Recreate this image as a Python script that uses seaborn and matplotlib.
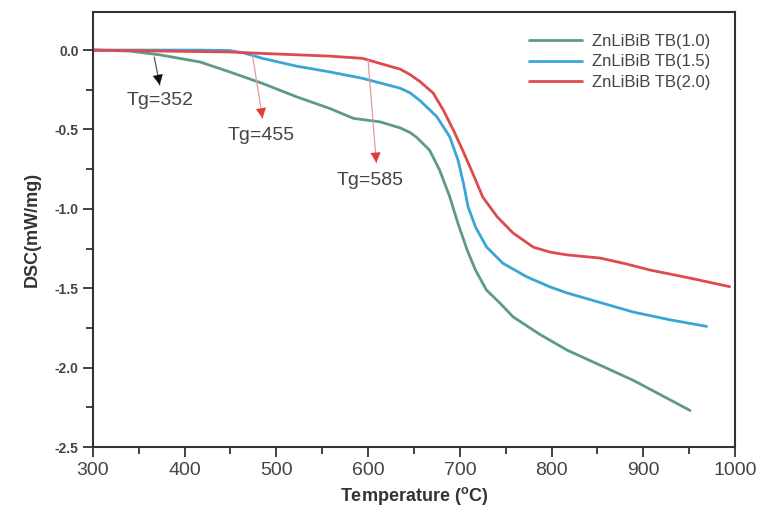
import matplotlib
matplotlib.use("Agg")
import matplotlib.pyplot as plt
from matplotlib.ticker import MultipleLocator
import seaborn as sns
import pandas as pd

# ---- data ----
labels = ["ZnLiBiB TB(1.0)", "ZnLiBiB TB(1.5)", "ZnLiBiB TB(2.0)"]

t_10 = [300, 340, 373, 417, 449, 485, 522, 558, 584, 613, 635, 646, 653, 667, 678, 689, 698, 708,
        717, 729, 744, 758, 787, 817, 853, 889, 920, 951]
d_10 = [0.0, -0.006, -0.03, -0.075, -0.137, -0.21, -0.294, -0.367, -0.43, -0.452, -0.49, -0.52, -0.55,
        -0.63, -0.756, -0.924, -1.092, -1.259, -1.385, -1.511, -1.595, -1.68, -1.79, -1.89, -1.985, -2.08,
        -2.175, -2.27]

t_15 = [300, 417, 449, 464, 485, 522, 558, 594, 635, 646, 657, 675, 689, 698, 704, 709, 717, 729, 747,
        773, 798, 817, 853, 889, 930, 969]
d_15 = [0.0, 0.0, -0.003, -0.017, -0.052, -0.101, -0.137, -0.178, -0.24, -0.27, -0.32, -0.42, -0.546,
        -0.693, -0.84, -0.987, -1.113, -1.239, -1.343, -1.428, -1.491, -1.53, -1.59, -1.65, -1.70, -1.74]

t_20 = [300, 449, 485, 558, 594, 613, 635, 646, 657, 671, 682, 693, 703, 714, 725, 741, 758, 780, 798,
        817, 853, 880, 907, 950, 994]
d_20 = [0.0, -0.012, -0.021, -0.038, -0.052, -0.084, -0.12, -0.155, -0.2, -0.271, -0.378, -0.504, -0.63,
        -0.775, -0.926, -1.052, -1.152, -1.241, -1.272, -1.29, -1.31, -1.345, -1.385, -1.435, -1.49]

tg_labels = ["Tg=352", "Tg=455", "Tg=585"]
tg_start = [(367, -0.044), (474, -0.03), (600, -0.063)]
tg_end = [(373, -0.22), (485, -0.43), (609, -0.71)]
tg_text = [(373, -0.315), (483, -0.535), (602, -0.82)]

colors = ["#5c9c86", "#3aa6d6", "#de4a4f"]

frames = []
for lab, t, d in zip(labels, [t_10, t_15, t_20], [d_10, d_15, d_20]):
    frames.append(pd.DataFrame({"T": t, "DSC": d, "Sample": lab}))
df = pd.concat(frames, ignore_index=True)

sns.set_style("ticks")
plt.rcParams["font.family"] = ["Liberation Sans", "DejaVu Sans"]

fig = plt.figure(figsize=(7.73, 5.21), dpi=100)
ax = fig.add_axes([0.120, 0.142, 0.831, 0.835])

sns.lineplot(data=df, x="T", y="DSC", hue="Sample", palette=colors,
             sort=False, estimator=None, linewidth=2.0, ax=ax)
for ln in ax.get_lines():
    ln.set_solid_joinstyle("round")
    ln.set_solid_capstyle("round")

ax.set_xlim(300, 1000)
ax.set_ylim(-2.5, 0.24)
ax.xaxis.set_major_locator(MultipleLocator(100))
ax.xaxis.set_minor_locator(MultipleLocator(50))
ax.yaxis.set_major_locator(MultipleLocator(0.5))
ax.yaxis.set_minor_locator(MultipleLocator(0.25))
ax.set_yticks([0.0, -0.5, -1.0, -1.5, -2.0, -2.5])
ax.set_yticklabels(["0.0", "-0.5", "-1.0", "-1.5", "-2.0", "-2.5"])

ax.tick_params(axis="both", which="major", direction="out", length=7, width=1.3, color="#333333")
ax.tick_params(axis="both", which="minor", direction="out", length=5, width=1.3, color="#333333")
ax.tick_params(axis="x", labelsize=14, labelcolor="#444444", pad=4)
ax.tick_params(axis="y", labelsize=10, labelcolor="#444444", pad=3)
for lbl in ax.get_yticklabels():
    lbl.set_fontweight("bold")
for sp in ax.spines.values():
    sp.set_linewidth(1.5)
    sp.set_color("#333333")

ax.set_xlabel("Temperature ($^{\\mathregular{o}}$C)", fontsize=13, fontweight="bold", color="#333333", labelpad=4)
ax.set_ylabel("DSC(mW/mg)", fontsize=13, fontweight="bold", color="#333333", labelpad=10)

arrow_line = ["#555555", "#e69a9a", "#e69a9a"]
arrow_head = ["#111111", "#e03a3a", "#e03a3a"]
for lab, s, e, tp, lc, hc in zip(tg_labels, tg_start, tg_end, tg_text, arrow_line, arrow_head):
    ax.annotate("", xy=e, xytext=s,
                arrowprops=dict(arrowstyle="-", color=lc, lw=0.9, shrinkA=0, shrinkB=0))
    ax.annotate("", xy=e, xytext=(e[0] - (e[0] - s[0]) * 0.12, e[1] - (e[1] - s[1]) * 0.12),
                arrowprops=dict(arrowstyle="-|>,head_length=0.6,head_width=0.3", color=hc, lw=0.1,
                                mutation_scale=12, shrinkA=0, shrinkB=0))
    ax.text(tp[0], tp[1], lab, fontsize=14, color="#444444", ha="center", va="center")

leg = ax.legend(loc="upper right", frameon=False, fontsize=12, handlelength=3.2,
                handletextpad=0.6, labelspacing=0.35, bbox_to_anchor=(0.985, 0.985))
for txt in leg.get_texts():
    txt.set_color("#444444")

fig.savefig("out.png", dpi=100)
